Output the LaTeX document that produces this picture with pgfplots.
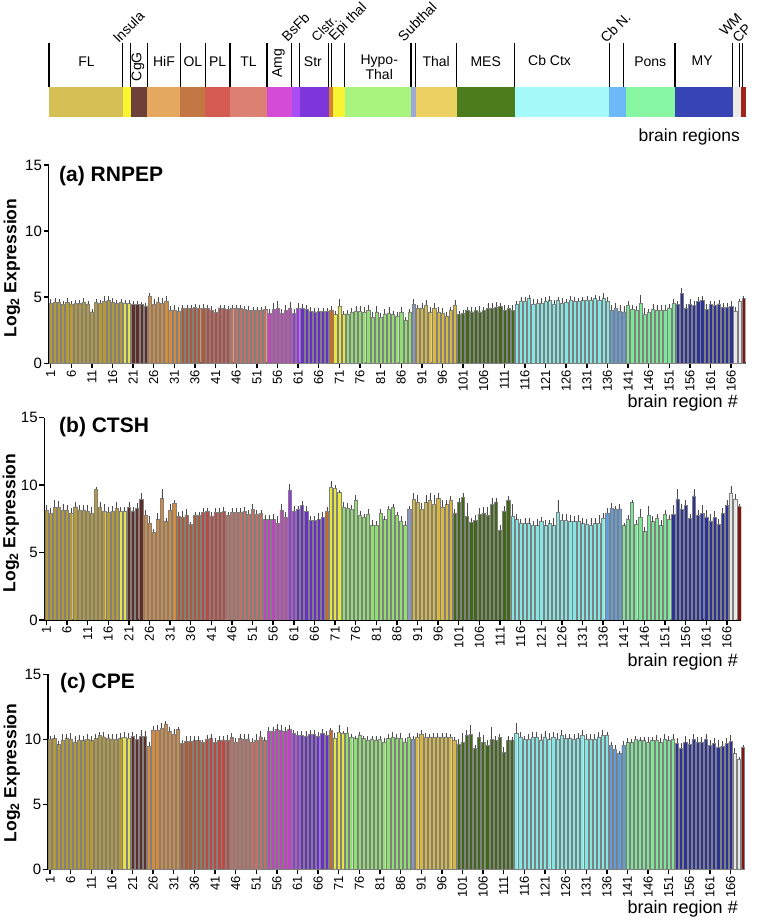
\documentclass[border=0pt]{standalone}
\usepackage{pgfplots}
\pgfplotsset{compat=1.18}
\usepackage{pgfplotstable}
\usepackage{fontspec}
\setmainfont{Liberation Sans}

% bar colours
\definecolor{bFL}{HTML}{B59A36}
\definecolor{bIns}{HTML}{E6E34A}
\definecolor{bCgG}{HTML}{5E2F2A}
\definecolor{bHiF}{HTML}{D48C3C}
\definecolor{bOL}{HTML}{AA5B37}
\definecolor{bPL}{HTML}{BD4A40}
\definecolor{bTL}{HTML}{BF7264}
\definecolor{bAmg}{HTML}{C244C0}
\definecolor{bBsFb}{HTML}{9B35E6}
\definecolor{bStr}{HTML}{6A2FC9}
\definecolor{bCls}{HTML}{C96A2A}
\definecolor{bEpi}{HTML}{E8E63A}
\definecolor{bHyp}{HTML}{8FE070}
\definecolor{bSub}{HTML}{8A97C2}
\definecolor{bTha}{HTML}{D9B83F}
\definecolor{bMES}{HTML}{42671B}
\definecolor{bCbC}{HTML}{82E8E6}
\definecolor{bCbN}{HTML}{5E9EDF}
\definecolor{bPon}{HTML}{7BE895}
\definecolor{bMY}{HTML}{2B3399}
\definecolor{bWM}{HTML}{E8E8E8}
\definecolor{bCP}{HTML}{7E1611}
% strip colours
\definecolor{sFL}{HTML}{D6BF55}
\definecolor{sIns}{HTML}{F8F52E}
\definecolor{sCgG}{HTML}{6D403A}
\definecolor{sHiF}{HTML}{E4A85E}
\definecolor{sOL}{HTML}{C27744}
\definecolor{sPL}{HTML}{D45B52}
\definecolor{sTL}{HTML}{DB8072}
\definecolor{sAmg}{HTML}{D44BD5}
\definecolor{sBsFb}{HTML}{A94CF3}
\definecolor{sStr}{HTML}{7E36DB}
\definecolor{sCls}{HTML}{D9842C}
\definecolor{sEpi}{HTML}{F8F431}
\definecolor{sHyp}{HTML}{A7F57E}
\definecolor{sSub}{HTML}{9EA8D6}
\definecolor{sTha}{HTML}{ECD062}
\definecolor{sMES}{HTML}{4B7D1C}
\definecolor{sCbC}{HTML}{A6FBFA}
\definecolor{sCbN}{HTML}{6DB9F7}
\definecolor{sPon}{HTML}{86F6A2}
\definecolor{sMY}{HTML}{3645B3}
\definecolor{sWM}{HTML}{EDEAEA}
\definecolor{sCP}{HTML}{9E241C}

\pgfplotstableread[row sep=\\]{
x y e\\
1 4.55 .2\\ 2 4.65 .2\\ 3 4.6 .2\\ 4 4.5 .15\\ 5 4.65 .2\\ 6 4.5 .15\\ 7 4.55 .15\\ 8 4.55 .15\\ 9 4.65 .2\\ 10 4.5 .15\\
11 3.9 .1\\ 12 4.6 .15\\ 13 4.55 .15\\ 14 4.7 .3\\ 15 4.8 .2\\ 16 4.65 .2\\ 17 4.55 .15\\ 18 4.6 .15\\ 19 4.55 .15\\ 20 4.55 .15\\
21 4.5 .1\\ 22 4.45 .15\\ 23 4.45 .1\\ 24 4.35 .15\\ 25 5.1 .15\\ 26 4.45 .3\\ 27 4.6 .3\\ 28 4.55 .3\\ 29 4.7 .3\\ 30 4.0 .25\\
31 4.05 .25\\ 32 3.95 .2\\ 33 4.2 .15\\ 34 4.15 .15\\ 35 4.15 .15\\ 36 4.25 .15\\ 37 4.15 .2\\ 38 4.2 .2\\ 39 4.15 .2\\ 40 4.05 .2\\
41 3.85 .2\\ 42 4.2 .15\\ 43 4.15 .15\\ 44 4.1 .15\\ 45 4.15 .15\\ 46 4.15 .15\\ 47 4.15 .15\\ 48 4.1 .15\\ 49 4.05 .2\\ 50 4.0 .2\\
51 4.05 .15\\ 52 4.05 .15\\ 53 4.1 .15\\ 54 3.8 .2\\ 55 4.1 .35\\ 56 4.2 .45\\ 57 3.8 .2\\ 58 4.0 .35\\ 59 4.15 .4\\ 60 3.8 .2\\
61 4.15 .3\\ 62 4.2 .2\\ 63 4.1 .2\\ 64 3.95 .2\\ 65 3.9 .2\\ 66 3.95 .15\\ 67 3.95 .15\\ 68 3.95 .15\\ 69 4.05 .2\\ 70 3.7 .2\\
71 4.35 .45\\ 72 3.75 .15\\ 73 3.75 .2\\ 74 3.85 .25\\ 75 3.95 .3\\ 76 3.95 .3\\ 77 3.85 .3\\ 78 4.0 .3\\ 79 3.5 .3\\ 80 3.9 .35\\
81 3.5 .2\\ 82 3.75 .3\\ 83 3.8 .4\\ 84 3.7 .2\\ 85 3.6 .2\\ 86 3.85 .35\\ 87 3.25 .15\\ 88 3.9 .15\\ 89 4.45 .3\\ 90 4.15 .2\\
91 4.15 .3\\ 92 4.4 .3\\ 93 3.9 .25\\ 94 4.15 .3\\ 95 3.9 .25\\ 96 3.8 .3\\ 97 3.6 .2\\ 98 4.0 .2\\ 99 4.4 .3\\ 100 3.7 .15\\
101 3.8 .15\\ 102 4.0 .2\\ 103 3.9 .25\\ 104 4.0 .2\\ 105 3.9 .35\\ 106 4.0 .2\\ 107 4.15 .35\\ 108 4.15 .35\\ 109 4.25 .3\\ 110 4.3 .2\\
111 4.0 .3\\ 112 4.15 .2\\ 113 4.05 .25\\ 114 4.45 .15\\ 115 4.7 .25\\ 116 4.7 .2\\ 117 4.9 .2\\ 118 4.5 .3\\ 119 4.55 .2\\ 120 4.55 .3\\
121 4.7 .25\\ 122 4.75 .25\\ 123 4.5 .2\\ 124 4.8 .15\\ 125 4.55 .3\\ 126 4.6 .2\\ 127 4.8 .2\\ 128 4.7 .2\\ 129 4.7 .15\\ 130 4.75 .2\\
131 4.8 .2\\ 132 4.8 .15\\ 133 4.9 .2\\ 134 4.8 .2\\ 135 4.9 .3\\ 136 4.7 .2\\ 137 4.0 .3\\ 138 4.2 .3\\ 139 3.95 .4\\ 140 3.9 .35\\
141 4.4 .2\\ 142 4.1 .2\\ 143 4.05 .2\\ 144 4.55 .5\\ 145 3.7 .4\\ 146 3.85 .2\\ 147 4.1 .3\\ 148 4.05 .3\\ 149 4.05 .3\\ 150 4.05 .3\\
151 4.2 .2\\ 152 4.55 .2\\ 153 4.45 .2\\ 154 5.3 .35\\ 155 4.2 .2\\ 156 4.45 .3\\ 157 4.4 .25\\ 158 4.7 .2\\ 159 4.75 .25\\ 160 4.1 .3\\
161 4.45 .2\\ 162 4.4 .25\\ 163 4.5 .2\\ 164 4.25 .2\\ 165 4.25 .2\\ 166 4.3 .3\\ 167 3.95 .2\\ 168 4.7 .1\\ 169 4.9 .1\\
}\tabA

\pgfplotstableread[row sep=\\]{
x y e\\
1 8.15 .3\\ 2 7.9 .3\\ 3 8.35 .5\\ 4 8.35 .4\\ 5 8.15 .4\\ 6 8.15 .3\\ 7 7.95 .3\\ 8 8.4 .3\\ 9 8.15 .3\\ 10 8.15 .3\\
11 8.1 .35\\ 12 7.9 .4\\ 13 9.7 .1\\ 14 8.35 .35\\ 15 8.1 .45\\ 16 8.0 .3\\ 17 8.1 .3\\ 18 8.3 .4\\ 19 8.1 .2\\ 20 8.1 .2\\
21 8.35 .3\\ 22 8.1 .2\\ 23 8.3 .3\\ 24 8.95 .35\\ 25 7.8 .25\\ 26 7.2 .4\\ 27 6.5 .2\\ 28 7.45 .4\\ 29 9.0 .6\\ 30 7.3 .2\\
31 8.15 .35\\ 32 8.65 .15\\ 33 7.7 .25\\ 34 7.65 .35\\ 35 7.8 .35\\ 36 7.1 .1\\ 37 7.8 .15\\ 38 7.8 .15\\ 39 8.0 .2\\ 40 8.05 .2\\
41 7.7 .2\\ 42 8.0 .2\\ 43 8.0 .2\\ 44 8.05 .25\\ 45 7.75 .2\\ 46 8.0 .25\\ 47 8.0 .25\\ 48 8.0 .2\\ 49 8.05 .25\\ 50 7.85 .2\\
51 8.2 .35\\ 52 7.85 .25\\ 53 7.9 .2\\ 54 7.45 .25\\ 55 7.45 .25\\ 56 7.45 .35\\ 57 7.2 .4\\ 58 8.15 .35\\ 59 7.65 .3\\ 60 9.65 .35\\
61 8.1 .3\\ 62 8.2 .2\\ 63 8.5 .25\\ 64 8.05 .35\\ 65 7.4 .2\\ 66 7.4 .2\\ 67 7.45 .4\\ 68 7.6 .35\\ 69 8.1 .2\\ 70 9.85 .35\\
71 9.8 .1\\ 72 9.45 .1\\ 73 8.35 .35\\ 74 8.3 .3\\ 75 8.2 .25\\ 76 8.9 .3\\ 77 7.75 .25\\ 78 7.6 .2\\ 79 7.85 .3\\ 80 7.0 .3\\
81 7.05 .2\\ 82 7.9 .25\\ 83 7.45 .2\\ 84 8.2 .2\\ 85 8.35 .2\\ 86 7.75 .2\\ 87 7.35 .25\\ 88 7.05 .2\\ 89 8.2 .2\\ 90 8.95 .35\\
91 8.75 .4\\ 92 8.2 .4\\ 93 8.7 .5\\ 94 8.9 .4\\ 95 8.6 .55\\ 96 9.0 .35\\ 97 8.4 .4\\ 98 8.55 .3\\ 99 8.9 .2\\ 100 7.95 .2\\
101 8.7 .3\\ 102 9.1 .25\\ 103 7.7 .9\\ 104 7.25 .2\\ 105 7.4 .3\\ 106 7.85 .35\\ 107 7.95 .35\\ 108 7.8 .5\\ 109 8.6 .35\\ 110 8.7 .3\\
111 6.65 .3\\ 112 8.1 .3\\ 113 8.9 .2\\ 114 7.7 .8\\ 115 7.45 .3\\ 116 7.2 .2\\ 117 7.15 .3\\ 118 7.15 .3\\ 119 7.05 .2\\ 120 7.0 .4\\
121 7.35 .2\\ 122 7.0 .3\\ 123 7.15 .2\\ 124 7.0 .5\\ 125 8.0 .8\\ 126 7.4 .35\\ 127 7.4 .35\\ 128 7.3 .4\\ 129 7.3 .35\\ 130 7.35 .35\\
131 7.15 .3\\ 132 7.1 .3\\ 133 7.05 .4\\ 134 7.15 .3\\ 135 7.2 .5\\ 136 7.55 .3\\ 137 7.9 .3\\ 138 8.3 .3\\ 139 8.2 .15\\ 140 8.25 .25\\
141 7.0 .1\\ 142 7.5 .2\\ 143 8.7 .1\\ 144 7.1 .2\\ 145 7.65 .5\\ 146 6.55 .3\\ 147 7.8 .6\\ 148 7.3 .3\\ 149 7.55 .2\\ 150 7.0 .3\\
151 7.85 .2\\ 152 7.5 .2\\ 153 7.85 .6\\ 154 8.95 .7\\ 155 8.2 .3\\ 156 8.5 .3\\ 157 7.55 .2\\ 158 9.2 .4\\ 159 7.8 .3\\ 160 7.9 .55\\
161 7.65 .4\\ 162 7.35 .4\\ 163 7.6 .4\\ 164 7.1 .3\\ 165 7.9 .3\\ 166 8.5 .3\\ 167 9.4 .45\\ 168 8.95 .3\\ 169 8.45 .1\\
}\tabB

\pgfplotstableread[row sep=\\]{
x y e\\
1 10.0 .2\\ 2 10.05 .2\\ 3 9.6 .15\\ 4 9.95 .4\\ 5 10.05 .3\\ 6 10.0 .4\\ 7 9.8 .35\\ 8 9.95 .3\\ 9 9.9 .3\\ 10 10.0 .35\\
11 9.9 .3\\ 12 10.05 .25\\ 13 10.3 .2\\ 14 10.2 .3\\ 15 10.1 .2\\ 16 10.0 .3\\ 17 10.0 .35\\ 18 10.05 .35\\ 19 10.15 .35\\ 20 10.1 .3\\
21 10.25 .2\\ 22 10.0 .3\\ 23 10.25 .35\\ 24 10.25 .3\\ 25 9.5 .2\\ 26 10.7 .25\\ 27 10.7 .3\\ 28 10.85 .35\\ 29 11.2 .15\\ 30 10.6 .3\\
31 10.4 .3\\ 32 10.75 .1\\ 33 9.7 .15\\ 34 9.85 .3\\ 35 9.85 .3\\ 36 9.9 .25\\ 37 9.9 .3\\ 38 9.8 .1\\ 39 10.0 .25\\ 40 10.05 .3\\
41 9.8 .2\\ 42 9.9 .25\\ 43 9.95 .25\\ 44 9.95 .3\\ 45 10.15 .25\\ 46 9.8 .2\\ 47 10.05 .3\\ 48 10.0 .3\\ 49 10.0 .3\\ 50 9.8 .25\\
51 9.95 .35\\ 52 10.2 .35\\ 53 9.9 .2\\ 54 10.65 .2\\ 55 10.65 .25\\ 56 10.75 .35\\ 57 10.7 .3\\ 58 10.6 .3\\ 59 10.75 .3\\ 60 10.45 .2\\
61 10.35 .2\\ 62 10.3 .25\\ 63 10.25 .3\\ 64 10.4 .2\\ 65 10.4 .25\\ 66 10.25 .2\\ 67 10.45 .25\\ 68 10.35 .2\\ 69 10.7 .1\\ 70 10.1 .3\\
71 10.55 .5\\ 72 10.45 .1\\ 73 10.5 .35\\ 74 10.2 .15\\ 75 10.05 .15\\ 76 10.35 .15\\ 77 10.05 .15\\ 78 9.95 .2\\ 79 10.0 .2\\ 80 9.95 .25\\
81 10.0 .2\\ 82 9.8 .2\\ 83 10.05 .25\\ 84 10.2 .25\\ 85 10.05 .3\\ 86 10.1 .3\\ 87 9.8 .2\\ 88 10.15 .25\\ 89 10.0 .2\\ 90 10.2 .2\\
91 10.4 .25\\ 92 10.15 .25\\ 93 10.15 .2\\ 94 10.15 .25\\ 95 10.2 .2\\ 96 10.15 .25\\ 97 10.2 .2\\ 98 10.15 .2\\ 99 9.95 .15\\ 100 9.65 .3\\
101 9.8 .6\\ 102 10.35 .3\\ 103 10.4 .6\\ 104 9.3 .2\\ 105 10.15 .3\\ 106 9.75 .5\\ 107 9.55 .3\\ 108 10.0 .9\\ 109 9.9 .3\\ 110 10.15 .2\\
111 9.0 .3\\ 112 9.9 .3\\ 113 9.9 .2\\ 114 10.45 .7\\ 115 10.2 .3\\ 116 10.0 .2\\ 117 10.0 .3\\ 118 10.15 .3\\ 119 10.2 .3\\ 120 9.95 .4\\
121 10.2 .35\\ 122 10.0 .4\\ 123 10.15 .3\\ 124 10.0 .4\\ 125 10.35 .3\\ 126 10.05 .3\\ 127 10.05 .3\\ 128 10.0 .3\\ 129 10.05 .35\\ 130 10.35 .3\\
131 10.0 .3\\ 132 10.0 .3\\ 133 10.0 .3\\ 134 10.2 .3\\ 135 10.35 .3\\ 136 10.3 .2\\ 137 9.55 .15\\ 138 9.25 .2\\ 139 8.9 .1\\ 140 9.55 .2\\
141 9.75 .3\\ 142 9.75 .2\\ 143 10.0 .2\\ 144 9.9 .2\\ 145 9.9 .2\\ 146 9.8 .3\\ 147 9.9 .2\\ 148 9.95 .3\\ 149 9.75 .3\\ 150 10.0 .3\\
151 9.9 .3\\ 152 10.0 .3\\ 153 9.7 .3\\ 154 9.35 .3\\ 155 9.75 .4\\ 156 9.65 .3\\ 157 10.0 .3\\ 158 9.8 .3\\ 159 9.8 .3\\ 160 10.0 .3\\
161 9.55 .3\\ 162 9.7 .3\\ 163 9.4 .5\\ 164 9.5 .3\\ 165 9.7 .35\\ 166 9.85 .4\\ 167 8.9 .35\\ 168 8.45 .1\\ 169 9.4 .1\\
}\tabC

\newcommand{\regbar}[4]{%
  \addplot[ybar, bar width=0.78, bar shift=0pt, fill=#4, draw=black!50, line width=0.4pt,
    restrict x to domain=#2:#3,
    error bars/.cd, y dir=plus, y explicit,
    error bar style={black!70, line width=0.5pt},
    error mark options={black!70, mark size=1.1pt, line width=0.5pt}]
    table[x=x, y=y, y error=e]{#1};}

\newcommand{\allbars}[1]{%
  \regbar{#1}{1}{18}{bFL}
  \regbar{#1}{19}{20}{bIns}
  \regbar{#1}{21}{24}{bCgG}
  \regbar{#1}{25}{32}{bHiF}
  \regbar{#1}{33}{38}{bOL}
  \regbar{#1}{39}{44}{bPL}
  \regbar{#1}{45}{53}{bTL}
  \regbar{#1}{54}{59}{bAmg}
  \regbar{#1}{60}{61}{bBsFb}
  \regbar{#1}{62}{68}{bStr}
  \regbar{#1}{69}{69}{bCls}
  \regbar{#1}{70}{72}{bEpi}
  \regbar{#1}{73}{88}{bHyp}
  \regbar{#1}{89}{89}{bSub}
  \regbar{#1}{90}{99}{bTha}
  \regbar{#1}{100}{113}{bMES}
  \regbar{#1}{114}{136}{bCbC}
  \regbar{#1}{137}{140}{bCbN}
  \regbar{#1}{141}{152}{bPon}
  \regbar{#1}{153}{166}{bMY}
  \regbar{#1}{167}{168}{bWM}
  \regbar{#1}{169}{169}{bCP}
}

\newcommand{\sreg}[3]{\addplot[fill=#3, draw=none] coordinates {(#1,1) (#2,1)} \closedcycle;}
\newcommand{\vl}[1]{\addplot[black, line width=1.2pt] coordinates {(#1,1) (#1,2.43)};}

\pgfplotsset{panel/.style={
  scale only axis, width=697pt,
  xmin=0.5, xmax=169.5, ymin=0, ymax=15,
  axis x line*=bottom, axis y line*=left,
  axis line style={line width=1.6pt, -},
  xtick={1,6,...,166}, ytick={0,5,10,15},
  tick align=outside, major tick length=5pt,
  every tick/.style={black, line width=1.4pt},
  x tick label style={rotate=90, anchor=east, font=\fontsize{13}{13}\selectfont, inner sep=1.5pt},
  y tick label style={font=\fontsize{15}{15}\selectfont, inner sep=1.5pt},
  /pgf/number format/assume math mode=true,
}}

\newcommand{\ylab}{\fontsize{17.5}{18}\selectfont\bfseries Log\textsubscript{2} Expression}

\begin{document}
\begin{tikzpicture}
\useasboundingbox (0,0) rectangle (757pt,922pt);

% ---------- region strip ----------
\begin{axis}[at={(48.5pt,805pt)}, anchor=south west, scale only axis,
  width=697pt, height=30.3pt, xmin=0.5, xmax=169.5, ymin=0, ymax=1,
  hide axis, clip=false]
  \sreg{0.5}{18.5}{sFL}
  \sreg{18.5}{20.5}{sIns}
  \sreg{20.5}{24.5}{sCgG}
  \sreg{24.5}{32.5}{sHiF}
  \sreg{32.5}{38.5}{sOL}
  \sreg{38.5}{44.5}{sPL}
  \sreg{44.5}{53.5}{sTL}
  \sreg{53.5}{59.5}{sAmg}
  \sreg{59.5}{61.5}{sBsFb}
  \sreg{61.5}{68.5}{sStr}
  \sreg{68.5}{69.5}{sCls}
  \sreg{69.5}{72.5}{sEpi}
  \sreg{72.5}{88.5}{sHyp}
  \sreg{88.5}{89.5}{sSub}
  \sreg{89.5}{99.5}{sTha}
  \sreg{99.5}{113.5}{sMES}
  \sreg{113.5}{136.5}{sCbC}
  \sreg{136.5}{140.5}{sCbN}
  \sreg{140.5}{152.5}{sPon}
  \sreg{152.5}{166.5}{sMY}
  \sreg{166.5}{168.5}{sWM}
  \sreg{168.5}{169.5}{sCP}
  \vl{0.6}\vl{18.4}\vl{20.3}\vl{24.5}\vl{32.5}\vl{38.5}\vl{44.5}\vl{53.5}
  \vl{59.5}\vl{61.3}\vl{68.4}\vl{69.2}\vl{72.3}\vl{88.4}\vl{89.4}\vl{99.5}
  \vl{113.5}\vl{136.5}\vl{140.0}\vl{152.4}\vl{166.3}\vl{168.0}\vl{168.7}
  \begin{scope}[every node/.style={font=\fontsize{14}{15}\selectfont, inner sep=0pt}]
    \node at (axis cs:9.7,1.82) {FL};
    \node at (axis cs:28.5,1.82) {HiF};
    \node at (axis cs:35.5,1.82) {OL};
    \node at (axis cs:41.5,1.82) {PL};
    \node at (axis cs:49,1.82) {TL};
    \node at (axis cs:64.6,1.82) {Str};
    \node[align=center] at (axis cs:80.7,1.65) {Hypo-\\Thal};
    \node at (axis cs:94.5,1.82) {Thal};
    \node at (axis cs:106.5,1.82) {MES};
    \node at (axis cs:122,1.85) {Cb Ctx};
    \node at (axis cs:146.4,1.82) {Pons};
    \node at (axis cs:159,1.85) {MY};
  \end{scope}
  \begin{scope}[every node/.style={font=\fontsize{14}{15}\selectfont, inner sep=0pt}]
    \node[rotate=90] at (axis cs:22.2,1.66) {CgG};
    \node[rotate=90] at (axis cs:56.3,1.77) {Amg};
    \node[rotate=45, anchor=south west] at (axis cs:17.6,2.4) {Insula};
    \node[rotate=45, anchor=south west] at (axis cs:58.5,2.46) {BsFb};
    \node[rotate=45, anchor=south west, font=\fontsize{13}{14}\selectfont] at (axis cs:65.6,2.46) {Clstr.};
    \node[rotate=45, anchor=south west] at (axis cs:70.3,2.42) {Epi thal};
    \node[rotate=45, anchor=south west] at (axis cs:86.7,2.46) {Subthal};
    \node[rotate=45, anchor=south west] at (axis cs:135.8,2.4) {Cb N.};
    \node[rotate=45, anchor=south west] at (axis cs:164.6,2.64) {WM};
    \node[rotate=45, anchor=south west] at (axis cs:167.8,2.42) {CP};
  \end{scope}
\end{axis}
\node[anchor=east, font=\fontsize{17.5}{18}\selectfont, inner sep=0pt] at (740pt,785pt) {brain regions};

% ---------- panel (a) ----------
\begin{axis}[panel, at={(48.6pt,558.7pt)}, anchor=south west, height=198.3pt]
  \allbars{\tabA}
\end{axis}
\node[anchor=base west, font=\fontsize{21}{22}\selectfont\bfseries, inner sep=0pt] at (59pt,740.3pt) {(a) RNPEP};
\node[rotate=90, inner sep=0pt] at (12pt,654pt) {\ylab};
\node[anchor=east, font=\fontsize{18}{18}\selectfont, inner sep=0pt] at (738pt,518.7pt) {brain region \#};

% ---------- panel (b) ----------
\begin{axis}[panel, at={(44.3pt,302pt)}, anchor=south west, height=202.3pt]
  \allbars{\tabB}
\end{axis}
\node[anchor=base west, font=\fontsize{21}{22}\selectfont\bfseries, inner sep=0pt] at (59pt,489.3pt) {(b) CTSH};
\node[rotate=90, inner sep=0pt] at (11pt,399pt) {\ylab};
\node[anchor=east, font=\fontsize{18}{18}\selectfont, inner sep=0pt] at (738pt,260.3pt) {brain region \#};

% ---------- panel (c) ----------
\begin{axis}[panel, at={(48pt,52.7pt)}, anchor=south west, height=195pt]
  \allbars{\tabC}
\end{axis}
\node[anchor=base west, font=\fontsize{21}{22}\selectfont\bfseries, inner sep=0pt] at (60pt,233pt) {(c) CPE};
\node[rotate=90, inner sep=0pt] at (12pt,149pt) {\ylab};
\node[anchor=east, font=\fontsize{18}{18}\selectfont, inner sep=0pt] at (738pt,13pt) {brain region \#};
\end{tikzpicture}
\end{document}
